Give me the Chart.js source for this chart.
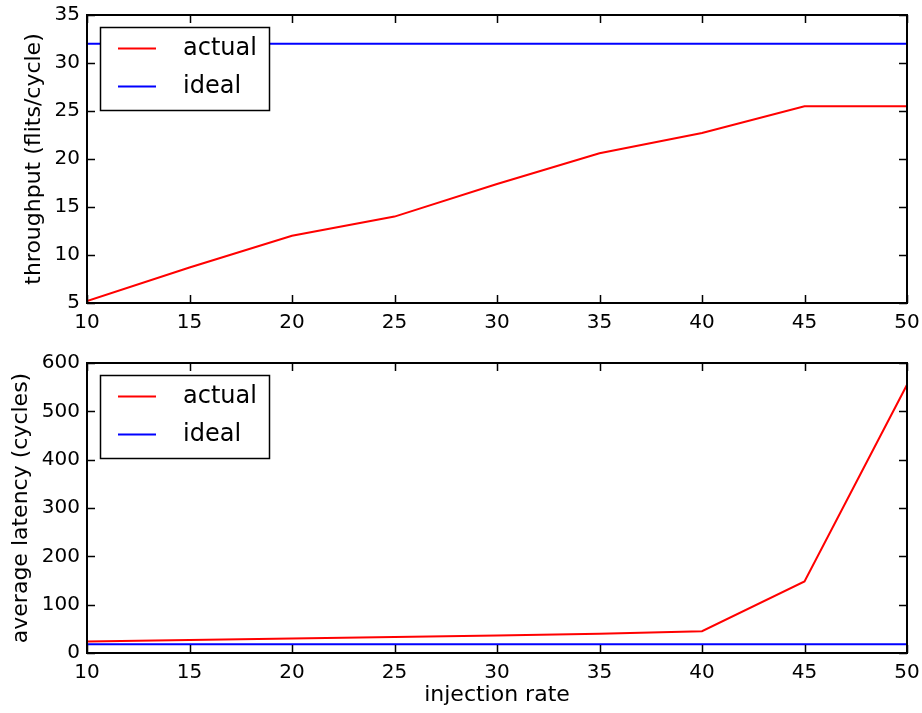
<!DOCTYPE html>
<html>
<head>
<meta charset="utf-8">
<script src="https://cdn.jsdelivr.net/npm/chart.js@4.4.0/dist/chart.umd.min.js"></script>
<style>
body { margin: 0; background: #fff; }
#wrap { position: relative; width: 922px; height: 713px; }
canvas { position: absolute; left: 0; }
</style>
</head>
<body>
<div id="wrap">
  <canvas id="thr" width="922" height="335" style="top:0"></canvas>
  <canvas id="lat" width="922" height="378" style="top:335px"></canvas>
</div>
<script>
var injectionRate = [10, 15, 20, 25, 30, 35, 40, 45, 50];
var throughputActual = [5.2, 8.7, 12.0, 14.0, 17.4, 20.6, 22.7, 25.5, 25.5];
var throughputIdeal = [32, 32, 32, 32, 32, 32, 32, 32, 32];
var latencyActual = [24, 27, 30, 33, 36, 40, 45, 148, 555];
var latencyIdeal = [18, 18, 18, 18, 18, 18, 18, 18, 18];
var xTicks = [10, 15, 20, 25, 30, 35, 40, 45, 50];
var throughputTicks = [5, 10, 15, 20, 25, 30, 35];
var latencyTicks = [0, 100, 200, 300, 400, 500, 600];

var FONT = "'DejaVu Sans', sans-serif";

function pts(ys) {
  return injectionRate.map(function (x, i) { return { x: x, y: ys[i] }; });
}

// matplotlib-ish frame: box, inward ticks on all sides, boxed legend
var framePlugin = {
  id: 'frame',
  afterDatasetsDraw: function (chart) {
    var ctx = chart.ctx, a = chart.chartArea;
    var xs = chart.scales.x, ys = chart.scales.y;
    ctx.save();
    ctx.strokeStyle = '#000';
    ctx.lineWidth = 1.5;
    ctx.beginPath();
    xs.ticks.forEach(function (t) {
      var px = Math.round(xs.getPixelForValue(t.value)) + 0.5;
      ctx.moveTo(px, a.bottom); ctx.lineTo(px, a.bottom - 8);
      ctx.moveTo(px, a.top); ctx.lineTo(px, a.top + 8);
    });
    ys.ticks.forEach(function (t) {
      var py = Math.round(ys.getPixelForValue(t.value)) + 0.5;
      ctx.moveTo(a.left, py); ctx.lineTo(a.left + 8, py);
      ctx.moveTo(a.right, py); ctx.lineTo(a.right - 8, py);
    });
    ctx.stroke();
    ctx.lineWidth = 2;
    ctx.strokeRect(a.left, a.top, a.right - a.left, a.bottom - a.top);

    // legend
    var bx = a.left + 13.5, by = a.top + 12.5;
    ctx.fillStyle = '#fff';
    ctx.fillRect(bx, by, 169, 83);
    ctx.lineWidth = 1.5;
    ctx.strokeRect(bx, by, 169, 83);
    ctx.font = '24px ' + FONT;
    ctx.textBaseline = 'middle';
    ctx.textAlign = 'left';
    chart.data.datasets.forEach(function (ds, i) {
      var ly = by + 21 + i * 38;
      ctx.strokeStyle = ds.borderColor;
      ctx.lineWidth = 2;
      ctx.beginPath();
      ctx.moveTo(a.left + 31, ly); ctx.lineTo(a.left + 69, ly);
      ctx.stroke();
      ctx.fillStyle = '#000';
      ctx.fillText(ds.label, a.left + 96, ly);
    });
    ctx.restore();
  }
};

function makeChart(id, actual, ideal, yTicks, yTitle, yTitlePad, xTitle, padTop, xHeight) {
  return new Chart(document.getElementById(id).getContext('2d'), {
    type: 'line',
    data: {
      datasets: [
        { label: 'actual', data: pts(actual), borderColor: 'red', borderWidth: 2, pointRadius: 0, tension: 0 },
        { label: 'ideal', data: pts(ideal), borderColor: 'blue', borderWidth: 2, pointRadius: 0, tension: 0 }
      ]
    },
    options: {
      responsive: false,
      animation: false,
      layout: { padding: { top: padTop, right: 15, left: 0, bottom: 0 } },
      plugins: { legend: { display: false }, tooltip: { enabled: false } },
      scales: {
        x: {
          type: 'linear',
          min: xTicks[0],
          max: xTicks[xTicks.length - 1],
          afterBuildTicks: function (s) { s.ticks = xTicks.map(function (v) { return { value: v }; }); },
          afterFit: function (s) { s.height = xHeight; s.paddingLeft = 0; s.paddingRight = 0; },
          grid: { display: false, drawTicks: false },
          border: { display: false },
          ticks: { font: { family: FONT, size: 20 }, color: '#000', padding: 8, maxRotation: 0, autoSkip: false },
          title: { display: !!xTitle, text: xTitle, color: '#000', font: { family: FONT, size: 22 }, padding: { top: 0, bottom: 5 } }
        },
        y: {
          min: yTicks[0],
          max: yTicks[yTicks.length - 1],
          afterBuildTicks: function (s) { s.ticks = yTicks.map(function (v) { return { value: v }; }); },
          afterFit: function (s) { s.width = 87; s.paddingTop = 0; s.paddingBottom = 0; },
          grid: { display: false, drawTicks: false },
          border: { display: false },
          ticks: { font: { family: FONT, size: 20 }, color: '#000', padding: 7, autoSkip: false },
          title: { display: true, text: yTitle, color: '#000', font: { family: FONT, size: 22 }, padding: { top: yTitlePad, bottom: 0 } }
        }
      }
    },
    plugins: [framePlugin]
  });
}

window.onload = function () {
  window.thrChart = makeChart('thr', throughputActual, throughputIdeal, throughputTicks,
    'throughput (flits/cycle)', 21, '', 15, 32);
  window.latChart = makeChart('lat', latencyActual, latencyIdeal, latencyTicks,
    'average latency (cycles)', 8, 'injection rate', 28, 60);
};
</script>
</body>
</html>
